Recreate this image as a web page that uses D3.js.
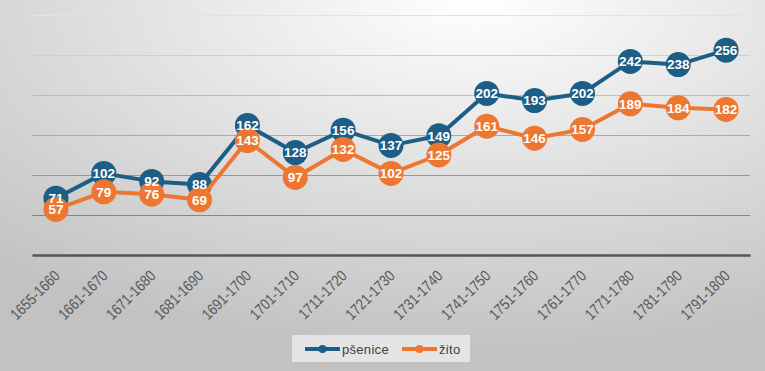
<!DOCTYPE html>
<html lang="cs">
<head>
<meta charset="utf-8">
<script src="https://cdn.jsdelivr.net/npm/d3@7"></script>
<style>
  html, body { margin: 0; padding: 0; overflow: hidden; }
  svg { display: block; }
  .tick-label { font-family: "Liberation Sans", Arial, sans-serif; font-size: 15.5px; fill: #595959; }
  .value-label { font-family: "Liberation Sans", Arial, sans-serif; font-size: 13.5px; font-weight: bold; fill: #fff; }
  .legend-label { font-family: "Liberation Sans", Arial, sans-serif; font-size: 13px; fill: #404040; letter-spacing: 0.3px; }
</style>
</head>
<body>
<svg id="chart" width="765" height="371"></svg>
<script>
var periods = ["1655-1660", "1661-1670", "1671-1680", "1681-1690", "1691-1700", "1701-1710",
  "1711-1720", "1721-1730", "1731-1740", "1741-1750", "1751-1760", "1761-1770",
  "1771-1780", "1781-1790", "1791-1800"];
var psenice = [71, 102, 92, 88, 162, 128, 156, 137, 149, 202, 193, 202, 242, 238, 256];
var zito = [57, 79, 76, 69, 143, 97, 132, 102, 125, 161, 146, 157, 189, 184, 182];
var gridTicks = [50, 100, 150, 200, 250, 300];

var series = [
  { name: "pšenice", values: psenice, color: "#1c5e85" },
  { name: "žito", values: zito, color: "#ed7731" }
];

var width = 765, height = 371;
var svg = d3.select("#chart");

var x = d3.scaleBand().domain(periods).range([32, 750]);
var y = d3.scaleLinear().domain([0, 300]).range([255, 15]);
function cx(i) { return x(periods[i]) + x.bandwidth() / 2; }

// background
var defs = svg.append("defs");
var grad = defs.append("radialGradient")
  .attr("id", "bg")
  .attr("cx", "0.62").attr("cy", "0")
  .attr("r", "0.95");
grad.append("stop").attr("offset", "0").attr("stop-color", "#ffffff");
grad.append("stop").attr("offset", "0.55").attr("stop-color", "#dddddd");
grad.append("stop").attr("offset", "1").attr("stop-color", "#c2c2c2");
svg.append("rect").attr("width", width).attr("height", height).attr("fill", "url(#bg)");

var gridGrad = defs.append("linearGradient")
  .attr("id", "gridGrad")
  .attr("gradientUnits", "userSpaceOnUse")
  .attr("x1", 0).attr("x2", 0)
  .attr("y1", y(300)).attr("y2", y(50));
gridGrad.append("stop").attr("offset", "0").attr("stop-color", "#e2e2e2");
gridGrad.append("stop").attr("offset", "1").attr("stop-color", "#858585");

// gridlines
svg.append("g")
  .selectAll("rect")
  .data(gridTicks)
  .enter().append("rect")
  .attr("x", 32).attr("width", 718)
  .attr("y", function(d) { return y(d); })
  .attr("height", 1)
  .attr("fill", "url(#gridGrad)");

// x axis
var xAxis = d3.axisBottom(x).tickSize(0).tickPadding(0);
var gx = svg.append("g").attr("transform", "translate(0," + y(0) + ")").call(xAxis);
gx.select(".domain").attr("stroke", "#555555").attr("stroke-width", 2.5);
gx.selectAll(".tick text")
  .attr("class", "tick-label")
  .attr("text-anchor", "end")
  .attr("transform", "translate(1,18) rotate(-45) scale(0.84,1)")
  .attr("dy", "0.35em")
  .attr("y", 0)
  .attr("x", 0);

// lines and markers, series by series
var line = d3.line()
  .x(function(d, i) { return cx(i); })
  .y(function(d) { return y(d); });

series.forEach(function(s) {
  var g = svg.append("g");
  g.append("path")
    .datum(s.values)
    .attr("d", line)
    .attr("fill", "none")
    .attr("stroke", s.color)
    .attr("stroke-width", 4)
    .attr("stroke-linejoin", "round");
  g.selectAll("circle").data(s.values).enter().append("circle")
    .attr("cx", function(d, i) { return cx(i); })
    .attr("cy", function(d) { return y(d); })
    .attr("r", 12.5)
    .attr("fill", s.color);
});

// data labels on top of everything
series.forEach(function(s) {
  svg.append("g").selectAll("text").data(s.values).enter().append("text")
    .attr("class", "value-label")
    .attr("text-anchor", "middle")
    .attr("x", function(d, i) { return cx(i); })
    .attr("y", function(d) { return y(d); })
    .attr("dy", "0.36em")
    .text(function(d) { return d; });
});

// legend
var legend = svg.append("g").attr("transform", "translate(292,335)");
legend.append("rect").attr("width", 178).attr("height", 27).attr("fill", "#ececec").attr("opacity", 0.8);
var items = legend.selectAll("g.item").data(series).enter().append("g")
  .attr("class", "item")
  .attr("transform", function(d, i) { return "translate(" + (i === 0 ? 13 : 110) + ",14)"; });
items.append("line").attr("x1", 0).attr("x2", 35).attr("stroke", function(d) { return d.color; }).attr("stroke-width", 4);
items.append("circle").attr("cx", 17.5).attr("r", 4).attr("fill", function(d) { return d.color; });
items.append("text").attr("class", "legend-label").attr("x", 37).attr("dy", "0.35em").text(function(d) { return d.name; });
</script>
</body>
</html>
